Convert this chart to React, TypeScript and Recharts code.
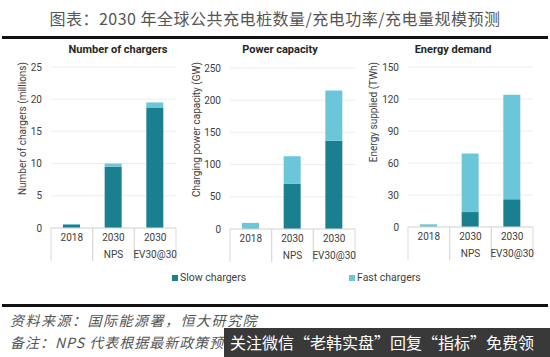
import { BarChart, Bar, XAxis, YAxis, CartesianGrid } from "recharts";

const years = ["2018", "2030", "2030"];
const scenarios = ["", "NPS", "EV30@30"];

const chargersSlow = [0.55, 9.5, 18.7];
const chargersFast = [0.05, 0.5, 0.8];
const chargerTicks = [0, 5, 10, 15, 20, 25];

const powerSlow = [1, 70, 137];
const powerFast = [8.5, 43, 78];
const powerTicks = [0, 50, 100, 150, 200, 250];

const energySlow = [0.5, 14, 26];
const energyFast = [2, 55, 98];
const energyTicks = [0, 30, 60, 90, 120, 150];

const SLOW = "#1a8090";
const FAST = "#6cc6d9";
const FONT = "Roboto, 'Noto Sans', sans-serif";
const CJK = "'Noto Sans CJK SC', sans-serif";

const toRows = (slow: number[], fast: number[]) =>
  years.map((y, i) => ({ key: `c${i}`, slow: slow[i], fast: fast[i] }));

function CatTick(props: any) {
  const { x, y, payload, bw } = props;
  const i = payload.index;
  return (
    <g>
      <line x1={x - bw / 2} x2={x - bw / 2} y1={y} y2={y + 33} stroke="#d9d9d9" />
      <line x1={x + bw / 2} x2={x + bw / 2} y1={y} y2={y + 33} stroke="#d9d9d9" />
      <text x={x} y={y + 13} textAnchor="middle" fontSize={10} fill="#404040" fontFamily={FONT}>
        {years[i]}
      </text>
      <text x={x} y={y + 30} textAnchor="middle" fontSize={10} fill="#404040" fontFamily={FONT}>
        {scenarios[i]}
      </text>
    </g>
  );
}

function YTitle(props: any) {
  const { viewBox, value, px } = props;
  const cx = (viewBox?.x ?? 0) + px;
  const cy = 22;
  return (
    <text
      x={cx}
      y={cy}
      transform={`rotate(-90 ${cx} ${cy})`}
      textAnchor="end"
      dominantBaseline="central"
      fontSize={10}
      fill="#404040"
      fontFamily={FONT}
    >
      {value}
    </text>
  );
}

type PanelProps = {
  left: number;
  title: string;
  titleX: number;
  yLabel: string;
  labelX: number;
  slow: number[];
  fast: number[];
  ticks: number[];
  yWidth: number;
  margin: { top: number; right: number; left: number; bottom: number };
};

function Panel(p: PanelProps) {
  const width = 180;
  const plotW = width - p.yWidth - p.margin.left - p.margin.right;
  const bw = plotW / years.length;
  return (
    <div style={{ position: "absolute", left: p.left, top: 40, width, height: 230 }}>
      <div
        style={{
          position: "absolute",
          left: p.titleX - 80,
          width: 160,
          top: 3,
          textAlign: "center",
          fontFamily: FONT,
          fontWeight: 700,
          fontSize: 11,
          color: "#262626",
        }}
      >
        {p.title}
      </div>
      <BarChart width={width} height={230} data={toRows(p.slow, p.fast)} margin={p.margin}>
        <CartesianGrid vertical={false} stroke="#ededed" />
        <XAxis
          dataKey="key"
          interval={0}
          height={36}
          tickSize={0}
          tickMargin={0}
          axisLine={{ stroke: "#d9d9d9" }}
          tick={<CatTick bw={bw} />}
        />
        <YAxis
          width={p.yWidth}
          domain={[0, p.ticks[p.ticks.length - 1]]}
          ticks={p.ticks}
          interval={0}
          tickLine={false}
          axisLine={false}
          tickSize={0}
          tickMargin={9}
          tick={{ fontSize: 10, fill: "#404040", fontFamily: FONT }}
          label={<YTitle value={p.yLabel} px={p.labelX} />}
        />
        <Bar dataKey="slow" stackId="s" fill={SLOW} barSize={17} isAnimationActive={false} />
        <Bar dataKey="fast" stackId="s" fill={FAST} barSize={17} isAnimationActive={false} />
      </BarChart>
    </div>
  );
}

export default function App() {
  return (
    <div
      style={{
        position: "absolute",
        left: 0,
        top: 0,
        width: 550,
        height: 357,
        background: "#fff",
        overflow: "hidden",
      }}
    >
      <div
        style={{
          position: "absolute",
          top: 6,
          left: 0,
          width: 550,
          textAlign: "center",
          fontFamily: CJK,
          fontSize: 16,
          color: "#555",
          letterSpacing: 0.5,
        }}
      >
        图表：2030 年全球公共充电桩数量/充电功率/充电量规模预测
      </div>
      <div style={{ position: "absolute", left: 2, top: 36, width: 546, height: 3, background: "#111" }} />

      <Panel
        left={0}
        title="Number of chargers"
        titleX={118}
        yLabel="Number of chargers (millions)"
        labelX={22}
        slow={chargersSlow}
        fast={chargersFast}
        ticks={chargerTicks}
        yWidth={51}
        margin={{ top: 27, right: 4, left: 0, bottom: 6 }}
      />
      <Panel
        left={180}
        title="Power capacity"
        titleX={100}
        yLabel="Charging power capacity (GW)"
        labelX={16}
        slow={powerSlow}
        fast={powerFast}
        ticks={powerTicks}
        yWidth={50}
        margin={{ top: 28, right: 5, left: 0, bottom: 5 }}
      />
      <Panel
        left={360}
        title="Energy demand"
        titleX={93}
        yLabel="Energy supplied (TWh)"
        labelX={13}
        slow={energySlow}
        fast={energyFast}
        ticks={energyTicks}
        yWidth={48}
        margin={{ top: 27, right: 7, left: 0, bottom: 7 }}
      />

      <div style={{ position: "absolute", top: 271, left: 172, display: "flex", alignItems: "center", fontFamily: FONT, fontSize: 10.5, color: "#404040" }}>
        <span style={{ width: 6, height: 6, background: SLOW, marginRight: 2, display: "inline-block" }} />
        Slow chargers
      </div>
      <div style={{ position: "absolute", top: 271, left: 349, display: "flex", alignItems: "center", fontFamily: FONT, fontSize: 10.5, color: "#404040" }}>
        <span style={{ width: 6, height: 6, background: FAST, marginRight: 2, display: "inline-block" }} />
        Fast chargers
      </div>

      <div style={{ position: "absolute", left: 2, top: 304, width: 546, height: 3, background: "#111" }} />
      <div style={{ position: "absolute", left: 10, top: 310, fontFamily: CJK, fontStyle: "italic", fontSize: 14, color: "#555", letterSpacing: 1.5 }}>
        资料来源：国际能源署，恒大研究院
      </div>
      <div style={{ position: "absolute", left: 10, top: 332, fontFamily: CJK, fontStyle: "italic", fontSize: 14, color: "#555", letterSpacing: 1, whiteSpace: "nowrap" }}>
        备注：NPS 代表根据最新政策预
      </div>
      <div
        style={{
          position: "absolute",
          left: 224,
          top: 328,
          width: 326,
          height: 29,
          background: "rgba(40,40,40,0.92)",
          color: "#fff",
          fontFamily: CJK,
          fontSize: 16,
          lineHeight: "29px",
          paddingLeft: 6,
          whiteSpace: "nowrap",
        }}
      >
        关注微信“老韩实盘”回复“指标”免费领
      </div>
    </div>
  );
}
